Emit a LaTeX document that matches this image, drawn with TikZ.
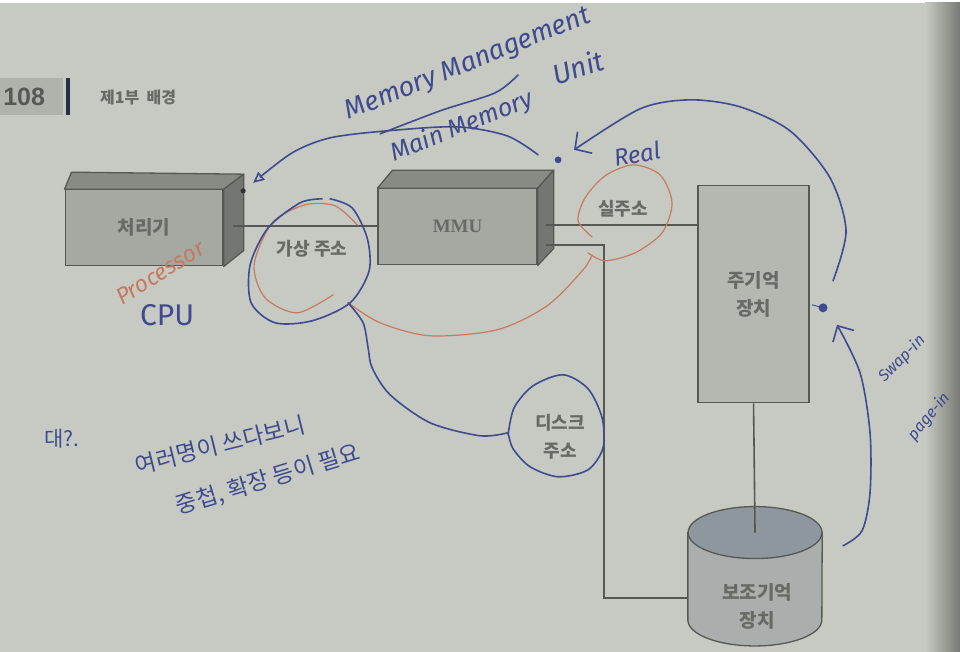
\documentclass[tikz,border=0pt]{standalone}
\usepackage{fontspec}
\usepackage{xcolor}
\usetikzlibrary{arrows.meta,positioning}

\newfontfamily\kr{Noto Sans CJK KR}
\newfontfamily\handfont{Fira Sans}
\newfontfamily\headfont{Liberation Sans}
\newfontfamily\printserif{Liberation Serif}

\definecolor{pagebg}{RGB}{199,202,194}
\definecolor{inkblue}{RGB}{64,74,142}
\definecolor{inkorange}{RGB}{198,122,96}
\definecolor{printline}{RGB}{86,88,83}
\definecolor{printtext}{RGB}{104,106,101}
\definecolor{boxfront}{RGB}{166,168,162}
\definecolor{boxtop}{RGB}{136,138,132}
\definecolor{boxside}{RGB}{116,118,113}
\definecolor{memfill}{RGB}{180,184,177}
\definecolor{cylbody}{RGB}{170,175,174}
\definecolor{cyltop}{RGB}{142,150,158}
\definecolor{headgray}{RGB}{176,178,172}
\definecolor{headbar}{RGB}{40,46,70}

\tikzset{
  printbox/.style={draw=printline, line width=1.3pt, fill=boxfront, inner sep=0pt,
                   text=printtext, align=center},
  boxface/.style={draw=printline, line width=1.3pt, line join=round},
  conn/.style={draw=printline, line width=1.6pt},
  printlabel/.style={text=printtext, font=\kr\bfseries\fontsize{18}{28}\selectfont, align=center},
  blueink/.style={draw=inkblue, line width=1.6pt, line cap=round},
  orangeink/.style={draw=inkorange, line width=1.2pt, line cap=round},
  handblue/.style={text=inkblue, font=\handfont\itshape\fontsize{#1}{#1}\selectfont},
  handorange/.style={text=inkorange, font=\handfont\itshape\fontsize{#1}{#1}\selectfont},
  handkr/.style={text=inkblue, font=\kr\fontsize{#1}{#1}\selectfont},
}

\begin{document}
\begin{tikzpicture}[x=1pt,y=-1pt]
                % page
                \fill[pagebg] (0,0) rectangle (960,649);
                \shade[left color=pagebg, right color=pagebg!60!black] (925,0) rectangle (960,649);

                % running head
                \fill[headgray] (0,75) rectangle (63,112);
                \fill[headbar] (66,75) rectangle (70,112);
                \node[text=printline, font=\headfont\bfseries\fontsize{25}{25}\selectfont] (pagenum) at (24,94) {108};
                \node[text=printtext, font=\kr\bfseries\fontsize{16}{16}\selectfont] (parttitle) at (138,95) {제1부\ \ 배경};

                % units
                \node[printbox, minimum width=158pt, minimum height=76pt,
                      font=\kr\bfseries\fontsize{19}{19}\selectfont] (proc) at (144,225) {처리기};
                \filldraw[boxface, fill=boxtop] (proc.north west) -- ++(7,-17)
                    -- ([shift={(20,-15)}]proc.north east) -- (proc.north east) -- cycle;
                \filldraw[boxface, fill=boxside] (proc.north east) -- ([shift={(20,-15)}]proc.north east)
                    -- ([shift={(20,-16)}]proc.south east) -- (proc.south east) -- cycle;

                \node[printbox, minimum width=159pt, minimum height=76pt,
                      font=\printserif\bfseries\fontsize{19}{19}\selectfont] (mmu) at (457.5,224) {MMU};
                \filldraw[boxface, fill=boxtop] (mmu.north west) -- ++(15,-18)
                    -- ([shift={(16,-18)}]mmu.north east) -- (mmu.north east) -- cycle;
                \filldraw[boxface, fill=boxside] (mmu.north east) -- ([shift={(16,-18)}]mmu.north east)
                    -- ([shift={(16,-17)}]mmu.south east) -- (mmu.south east) -- cycle;

                \node[printbox, fill=memfill, minimum width=111pt, minimum height=217pt,
                      font=\kr\bfseries\fontsize{19}{28}\selectfont] (mainmem) at (753.5,291.5) {주기억\\장치};

                \node[minimum width=134pt, minimum height=139pt, inner sep=0pt] (disk) at (755,573.5) {};
                \filldraw[boxface, fill=cylbody] ([yshift=-26pt]disk.north west) -- ([yshift=26pt]disk.south west)
                    arc[start angle=180, end angle=360, x radius=67pt, y radius=26pt]
                    -- ([yshift=-26pt]disk.north east) -- cycle;
                \filldraw[boxface, fill=cyltop] ([yshift=-26pt]disk.north) ellipse[x radius=67pt, y radius=26pt];
                \node[printlabel, font=\kr\bfseries\fontsize{19}{28}\selectfont] (disktext) at (757,604) {보조기억\\장치};

                % connections
                \coordinate (procout) at ([xshift=9pt,yshift=2pt]proc.east);
                \coordinate (mmuout1) at ([xshift=8pt,yshift=2pt]mmu.east);
                \coordinate (mmuout2) at ([xshift=8pt,yshift=-18pt]mmu.east);
                \draw[conn] (procout) -- (procout -| mmu.west);
                \draw[conn] (mmuout1) -- (mmuout1 -| mainmem.west);
                \draw[conn] (mmuout2) -- ++(58,0) |- ([yshift=-22pt]disk.west);
                \draw[conn] (mainmem.south) -- ([yshift=-26pt]disk.north);

                \node[printlabel] (vaddr) at (312,246) {가상\ 주소};
                \node[printlabel] (raddr) at (623,206) {실주소};
                \node[printlabel] (daddr) at (560,434) {디스크\\주소};

                % pen notes
                \draw[orangeink] plot[smooth] coordinates {(357,222) (335,203) (305,202) (272,220) (254,262) (265,295) (297,310) (333,292)};
                \draw[orangeink] plot[smooth] coordinates {(348,300) (380,320) (430,333) (497,327) (547,303) (583,267) (592,252)};
                \draw[orangeink] plot[smooth] coordinates {(592,234) (578,218) (585,195) (605,173) (633,162) (660,172) (672,200) (662,230) (635,250) (605,258) (588,250)};

                \draw[blueink] plot[smooth] coordinates {(330,196) (352,205) (367,235) (369,268) (350,300) (312,318) (275,320) (251,300) (250,262) (268,225) (300,200) (322,196)};
                \draw[blueink] plot[smooth] coordinates {(348,300) (363,320) (368,345) (372,365) (390,392) (430,420) (480,433) (508,430)};
                \draw[blueink] plot[smooth] coordinates {(508,432) (514,405) (533,383) (563,372) (588,386) (602,415) (603,445) (588,467) (558,474) (530,464) (513,446) (508,430)};

                \draw[blueink, -{Triangle[open, length=11pt, width=10pt]}] plot[smooth] coordinates {(538,152) (507,133) (457,124) (387,128) (330,135) (292,150) (253,180)};
                \draw[blueink] plot[smooth] coordinates {(380,131) (440,108) (495,90) (518,72)};
                \draw[blueink, -{Straight Barb[length=12pt, width=26pt]}] plot[smooth] coordinates {(833,278) (846,228) (830,175) (790,128) (740,104) (690,97) (640,106) (574,147)};
                \draw[blueink, -{Straight Barb[length=12pt, width=24pt]}] plot[smooth] coordinates {(843,543) (862,528) (870,490) (870,430) (860,370) (837,322)};

                \fill[black!80] (243,188) circle[radius=2.6pt];
                \fill[inkblue] (558,157) circle[radius=3.4pt];
                \draw[inkblue, line width=1pt] (812,302) -- (823,305);
                \fill[inkblue] (823,305) circle[radius=4.5pt];

                \node[handblue=27, rotate=22] (mmuname) at (468,62) {Memory Management};
                \node[handblue=28, rotate=18] (unitword) at (578,64) {Unit};
                \node[handblue=25, rotate=22] (mainmemword) at (462,124) {Main Memory};
                \node[handblue=24, rotate=10] (realword) at (637,151) {Real};
                \node[handorange=23, rotate=32] (procword) at (160,270) {Processor};
                \node[handblue=30, font=\handfont\fontsize{30}{30}\selectfont] (cpuword) at (167,312) {CPU};
                \node[handblue=16, rotate=45, inner sep=0pt] (swapword) at (902,356) {Swap-in};
                \node[handblue=16, rotate=50, inner sep=0pt] (pageword) at (929,414) {page-in};

                \node[handkr=21] (daeword) at (62,436) {대?.};
                \node[handkr=23, rotate=14] (notea) at (220,442) {여러명이 쓰다보니};
                \node[handkr=23, rotate=17] (noteb) at (268,477) {중첩, 확장 등이 필요};
            \end{tikzpicture}
\end{document}
